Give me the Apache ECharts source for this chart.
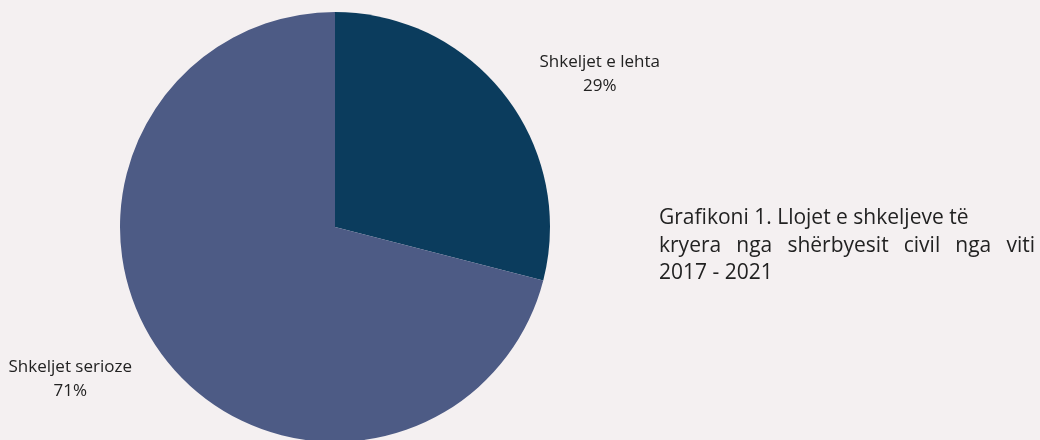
<!DOCTYPE html>
<html>
<head>
<meta charset="utf-8">
<style>
  html, body { margin: 0; padding: 0; background: #f4f0f1; }
  #chart { width: 1040px; height: 440px; }
</style>
<script src="https://cdn.jsdelivr.net/npm/echarts@6/dist/echarts.min.js"></script>
</head>
<body>
<div id="chart"></div>
<script>
// Types of violations, share of total
const categories = ['Shkeljet e lehta', 'Shkeljet serioze'];
const values = [29, 71];
const sliceColors = ['#0b3c5d', '#4d5b85'];

// Caption beside the pie, one array of words per line
const captionLine1 = ['Grafikoni 1. Llojet e shkeljeve të'];
const captionLine2 = ['kryera', 'nga', 'shërbyesit', 'civil', 'nga', 'viti'];
const captionLine3 = ['2017 - 2021'];

const FONT = '"Open Sans", "Noto Sans", sans-serif';
const CAPTION_SIZE = 21;
const chart = echarts.init(document.getElementById('chart'));

// The middle caption line is justified across the text column
const colLeft = 659, colRight = 1035;
const ctx = document.createElement('canvas').getContext('2d');
ctx.font = CAPTION_SIZE + 'px ' + FONT;
const widths = captionLine2.map(w => ctx.measureText(w).width);
const gap = (colRight - colLeft - widths.reduce((a, b) => a + b, 0)) / (captionLine2.length - 1);

const captionTexts = [];
captionLine1.forEach(t => captionTexts.push({ text: t, x: colLeft, y: 218 }));
let cursor = colLeft;
captionLine2.forEach((t, i) => {
  captionTexts.push({ text: t, x: cursor, y: 246 });
  cursor += widths[i] + gap;
});
captionLine3.forEach(t => captionTexts.push({ text: t, x: colLeft, y: 273 }));

chart.setOption({
  backgroundColor: '#f4f0f1',
  animation: false,
  series: [{
    type: 'pie',
    // widened layout box so the outer labels near the edge keep their full width
    left: -40,
    right: -40,
    center: [375, 227],
    radius: [0, 215],
    startAngle: 90,
    clockwise: true,
    data: categories.map((name, i) => ({
      name, value: values[i], itemStyle: { color: sliceColors[i] }
    })),
    label: {
      show: true,
      position: 'outside',
      formatter: '{t|{b}}\n{t|{d}%}',
      rich: {
        t: { width: 126, align: 'center', fontFamily: FONT, fontSize: 17, color: '#222', lineHeight: 24 }
      }
    },
    labelLine: { show: false, length: 34, length2: 0 },
    emphasis: { disabled: true }
  }],
  graphic: captionTexts.map(c => ({
    type: 'text',
    x: c.x,
    y: c.y,
    style: {
      text: c.text,
      fontFamily: FONT,
      fontSize: CAPTION_SIZE,
      fill: '#222',
      verticalAlign: 'middle'
    }
  }))
});
</script>
</body>
</html>
